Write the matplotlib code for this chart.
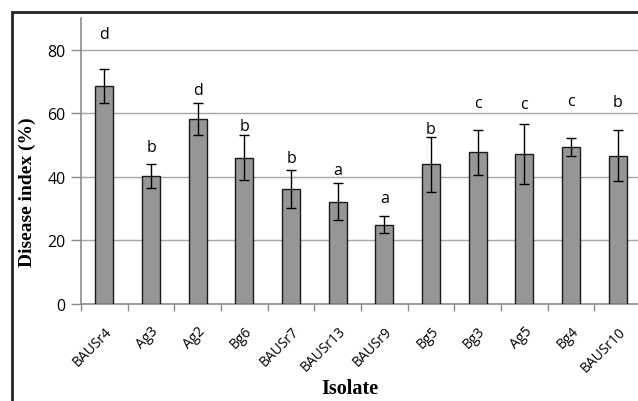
import numpy as np
import matplotlib
matplotlib.use("Agg")
import matplotlib.pyplot as plt
from matplotlib.patches import Rectangle

# data
isolates = ["BAUSr4", "Ag3", "Ag2", "Bg6", "BAUSr7", "BAUSr13",
            "BAUSr9", "Bg5", "Bg3", "Ag5", "Bg4", "BAUSr10"]
disease = [68.6, 40.3, 58.3, 46.1, 36.2, 32.2, 24.9, 43.9, 47.7, 47.3, 49.5, 46.6]
err = [5.3, 3.9, 5.0, 7.2, 6.0, 5.8, 2.7, 8.5, 7.2, 9.4, 2.8, 8.0]
letters = ["d", "b", "d", "b", "b", "a", "a", "b", "c", "c", "c", "b"]
letter_y = [85.0, 49.4, 67.4, 56.0, 46.0, 42.2, 33.5, 55.0, 63.3, 63.0, 64.0, 63.6]
yticks = [0, 20, 40, 60, 80]

fig = plt.figure(figsize=(6.38, 4.02), dpi=100)

# outer frame (cropped at right and bottom)
fig.patches.append(Rectangle((12/638, -0.1), 1.2, 1 - 13/402 + 0.1,
                             transform=fig.transFigure, fill=False,
                             edgecolor="#222222", linewidth=2.0, zorder=0))

ax = fig.add_axes([81/638, 1 - 305/402, 560/638, 286/402])

x = np.arange(len(isolates))
ax.bar(x, disease, width=0.39, color="#969696", edgecolor="#1a1a1a",
       linewidth=1.0, zorder=3)
ax.errorbar(x, disease, yerr=err, fmt="none", ecolor="black",
            elinewidth=1.0, capsize=3.5, capthick=1.0, zorder=4)

for xi, lab, ly in zip(x, letters, letter_y):
    ax.text(xi, ly, lab, ha="center", va="center", fontsize=11.5,
            family="Open Sans", color="black")

ax.set_xlim(-0.5, len(isolates) - 0.5)
ax.set_ylim(0, 90)
ax.set_yticks(yticks)
ax.set_yticklabels([str(v) for v in yticks], fontsize=11.5, family="Open Sans")
ax.yaxis.grid(True, color="#a6a6a6", linewidth=1.0, zorder=0)
ax.set_axisbelow(True)

# x ticks between categories, labels at category centres
ax.set_xticks(np.arange(len(isolates) + 1) - 0.5)
ax.set_xticklabels([])
ax.set_xticks(x, minor=True)
ax.set_xticklabels(isolates, minor=True, rotation=45, ha="right",
                   rotation_mode="anchor", fontsize=10, family="Open Sans")
ax.tick_params(axis="x", which="minor", length=0, pad=14)
ax.tick_params(axis="x", which="major", length=5, color="#8c8c8c", width=1.0)
ax.tick_params(axis="y", length=7, color="#8c8c8c", width=1.0, pad=4)

for s in ["top", "right"]:
    ax.spines[s].set_visible(False)
for s in ["left", "bottom"]:
    ax.spines[s].set_color("#8c8c8c")
    ax.spines[s].set_linewidth(1.2)

fig.text(27/638, 1 - 192/402, "Disease index (%)", rotation=90, ha="center",
         va="center", fontsize=14, fontweight="bold", family="Liberation Serif")
fig.text(350/638, 1 - 389/402, "Isolate", ha="center", va="center",
         fontsize=14.5, fontweight="bold", family="Liberation Serif")

fig.savefig("out.png", dpi=100)
